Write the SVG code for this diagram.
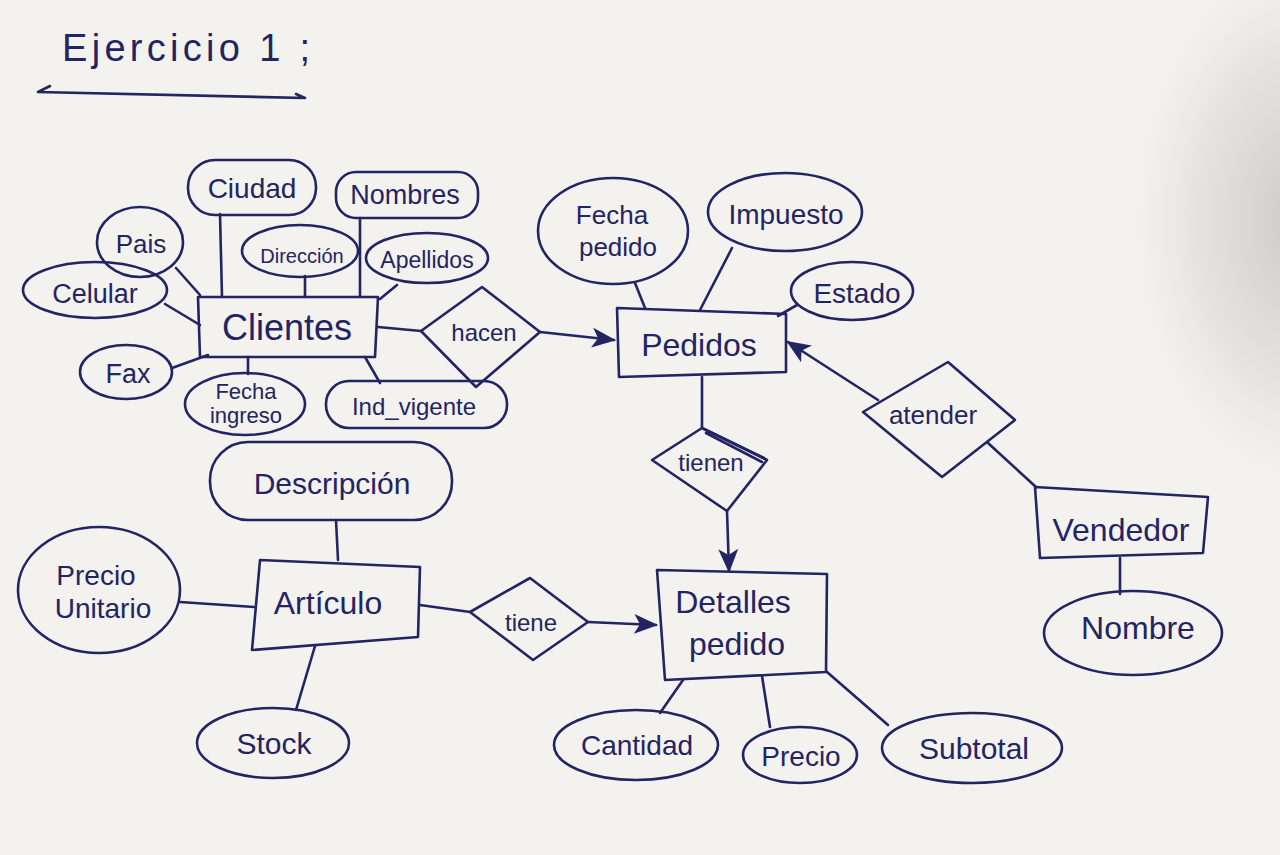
<svg xmlns="http://www.w3.org/2000/svg" width="1280" height="855" viewBox="0 0 1280 855">
<defs>
<style>
.s{fill:none;stroke:#232463;stroke-width:2.6;stroke-linejoin:round;stroke-linecap:round}
.t{font-family:"Liberation Sans","DejaVu Sans",sans-serif;fill:#232463;text-anchor:middle;dominant-baseline:central}
</style>
<marker id="ah2" viewBox="0 0 12 10" refX="11" refY="5" markerWidth="24" markerHeight="20" markerUnits="userSpaceOnUse" orient="auto">
<path d="M0,0 L12,5 L0,10 L3,5 Z" fill="#232463"/>
</marker>
<radialGradient id="sh" cx="0.5" cy="0.5" r="0.5">
<stop offset="0" stop-color="#c4c2be" stop-opacity="0.85"/>
<stop offset="0.55" stop-color="#d6d4cf" stop-opacity="0.5"/>
<stop offset="1" stop-color="#f3f2ee" stop-opacity="0"/>
</radialGradient>
</defs>
<rect width="1280" height="855" fill="#f3f2ee"/>
<ellipse cx="1300" cy="220" rx="190" ry="300" fill="url(#sh)"/>

<g id="title">
<text class="t" x="186" y="48" font-size="38" textLength="248" lengthAdjust="spacing">Ejercicio 1 ;</text>
<path class="s" d="M38,92 L305,98 M38,92 L50,86 M305,98 L296,94"/>
</g>

<g id="connectors">
<path class="s" d="M220,214 L222,297"/>
<path class="s" d="M360,218 L360,297"/>
<path class="s" d="M305,276 L305,297"/>
<path class="s" d="M397,285 L380,299"/>
<path class="s" d="M176,268 L200,295"/>
<path class="s" d="M165,304 L200,325"/>
<path class="s" d="M172,368 L208,355"/>
<path class="s" d="M248,357 L248,374"/>
<path class="s" d="M365,357 L380,383"/>
<path class="s" d="M378,327 L421,331"/>
<path class="s" d="M540,332 L614,340" marker-end="url(#ah2)"/>
<path class="s" d="M635,283 L645,308"/>
<path class="s" d="M732,248 L700,310"/>
<path class="s" d="M797,305 L778,316"/>
<path class="s" d="M878,400 L788,342" marker-end="url(#ah2)"/>
<path class="s" d="M988,443 L1036,487"/>
<path class="s" d="M1120,558 L1120,594"/>
<path class="s" d="M702,377 L702,428"/>
<path class="s" d="M727,511 L729,571" marker-end="url(#ah2)"/>
<path class="s" d="M704,429 L764,458 M706,433 L762,462"/>
<path class="s" d="M336,520 L338,560"/>
<path class="s" d="M180,602 L254,607"/>
<path class="s" d="M315,646 L296,710"/>
<path class="s" d="M420,605 L470,612"/>
<path class="s" d="M588,622 L656,625" marker-end="url(#ah2)"/>
<path class="s" d="M683,680 L660,713"/>
<path class="s" d="M762,676 L770,727"/>
<path class="s" d="M827,672 L888,725"/>
</g>

<g id="ciudad"><rect class="s" x="188" y="160" width="128" height="55" rx="27"/><text class="t" x="252" y="188" font-size="28">Ciudad</text></g>
<g id="nombres"><rect class="s" x="336" y="172" width="142" height="46" rx="20"/><text class="t" x="405" y="195" font-size="27">Nombres</text></g>
<g id="pais"><ellipse class="s" cx="140" cy="242" rx="43" ry="35"/><text class="t" x="141" y="244" font-size="26">Pais</text></g>
<g id="direccion"><ellipse class="s" cx="300" cy="251" rx="58" ry="26"/><text class="t" x="302" y="256" font-size="20">Dirección</text></g>
<g id="apellidos"><ellipse class="s" cx="427" cy="258" rx="61" ry="25"/><text class="t" x="427" y="260" font-size="23">Apellidos</text></g>
<g id="celular"><ellipse class="s" cx="95" cy="290" rx="72" ry="28"/><text class="t" x="95" y="294" font-size="27">Celular</text></g>
<g id="clientes"><polygon class="s" points="198,297 378,297 375,357 200,357"/><text class="t" x="287" y="327" font-size="36">Clientes</text></g>
<g id="fax"><ellipse class="s" cx="126" cy="372" rx="46" ry="27"/><text class="t" x="128" y="374" font-size="27">Fax</text></g>
<g id="fecha_ingreso"><ellipse class="s" cx="245" cy="404" rx="60" ry="31"/><text class="t" x="246" y="391" font-size="22">Fecha</text><text class="t" x="246" y="415" font-size="22">ingreso</text></g>
<g id="ind_vigente"><rect class="s" x="326" y="381" width="181" height="47" rx="23"/><text class="t" x="414" y="406" font-size="24">Ind_vigente</text></g>
<g id="hacen"><polygon class="s" points="421,331 482,287 540,332 476,387"/><text class="t" x="484" y="332" font-size="24">hacen</text></g>

<g id="fecha_pedido"><ellipse class="s" cx="613" cy="231" rx="75" ry="53"/><text class="t" x="612" y="215" font-size="26">Fecha</text><text class="t" x="618" y="247" font-size="26">pedido</text></g>
<g id="impuesto"><ellipse class="s" cx="785" cy="212" rx="77" ry="39"/><text class="t" x="786" y="214" font-size="28">Impuesto</text></g>
<g id="estado"><ellipse class="s" cx="852" cy="291" rx="61" ry="29"/><text class="t" x="857" y="293" font-size="28">Estado</text></g>
<g id="pedidos"><polygon class="s" points="617,308 786,314 786,372 619,377"/><text class="t" x="699" y="345" font-size="32">Pedidos</text></g>
<g id="atender"><polygon class="s" points="863,412 948,362 1015,420 942,477"/><text class="t" x="933" y="415" font-size="26">atender</text></g>
<g id="vendedor"><polygon class="s" points="1035,487 1208,497 1203,553 1040,558"/><text class="t" x="1121" y="530" font-size="32">Vendedor</text></g>
<g id="nombre"><ellipse class="s" cx="1133" cy="633" rx="89" ry="42"/><text class="t" x="1138" y="628" font-size="32">Nombre</text></g>
<g id="tienen"><polygon class="s" points="652,460 702,428 767,460 727,511"/><text class="t" x="711" y="462" font-size="24">tienen</text></g>
<g id="detalles_pedido"><polygon class="s" points="657,570 827,574 826,672 665,680"/><text class="t" x="733" y="602" font-size="32">Detalles</text><text class="t" x="737" y="644" font-size="32">pedido</text></g>
<g id="cantidad"><ellipse class="s" cx="636" cy="745" rx="82" ry="35"/><text class="t" x="637" y="745" font-size="28">Cantidad</text></g>
<g id="precio"><ellipse class="s" cx="800" cy="755" rx="57" ry="28"/><text class="t" x="801" y="756" font-size="28">Precio</text></g>
<g id="subtotal"><ellipse class="s" cx="972" cy="748" rx="90" ry="35"/><text class="t" x="974" y="748" font-size="30">Subtotal</text></g>

<g id="descripcion"><rect class="s" x="210" y="442" width="242" height="78" rx="38"/><text class="t" x="332" y="483" font-size="30">Descripción</text></g>
<g id="precio_unitario"><ellipse class="s" cx="99" cy="590" rx="81" ry="63"/><text class="t" x="96" y="575" font-size="28">Precio</text><text class="t" x="103" y="608" font-size="28">Unitario</text></g>
<g id="articulo"><polygon class="s" points="260,560 420,567 418,637 252,650"/><text class="t" x="328" y="603" font-size="32">Artículo</text></g>
<g id="stock"><ellipse class="s" cx="273" cy="743" rx="76" ry="35"/><text class="t" x="274" y="743" font-size="30">Stock</text></g>
<g id="tiene"><polygon class="s" points="470,612 530,578 588,622 533,660"/><text class="t" x="531" y="622" font-size="24">tiene</text></g>
</svg>
